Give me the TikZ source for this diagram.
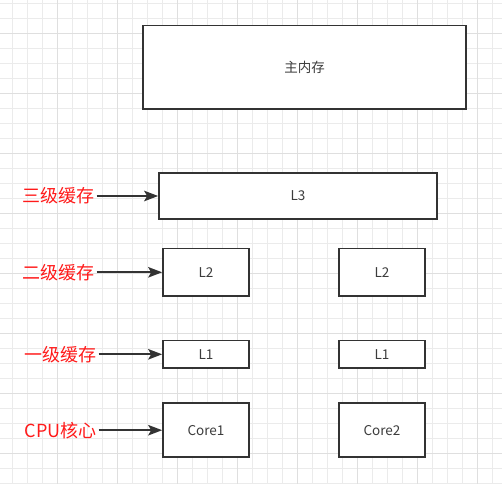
\documentclass[tikz,border=0pt]{standalone}
\usepackage{fontspec}
\setmainfont{Noto Sans CJK SC}
\usepackage{tikz}
\usetikzlibrary{arrows.meta,positioning}

\definecolor{gridminor}{HTML}{EBEBEB}
\definecolor{gridmajor}{HTML}{DFDFDF}
\definecolor{boxline}{HTML}{333333}
\definecolor{boxtext}{HTML}{3C3C3C}
\definecolor{tagred}{HTML}{FF1A1A}

\begin{document}
\begin{tikzpicture}[x=1pt,y=-1pt, box/.style={draw=boxline,line width=1.7pt,fill=white,minimum width=86pt,inner sep=0pt,text=boxtext,font=\fontsize{13.5}{15}\selectfont},tag/.style={text=tagred,anchor=east,inner sep=0pt,font=\fontsize{18}{20}\selectfont},pointer/.style={-{Stealth[length=14pt,width=10.5pt,inset=3pt]},line width=1.8pt,draw=boxline,shorten <=1.5pt}]
                      \useasboundingbox (0,0) rectangle (502,484);
                      \fill[white] (0,0) rectangle (502,484);
                      % grid paper
                      \foreach \x in {12.3,27.3,...,500} \draw[gridminor,line width=1pt] (\x,0) -- (\x,484);
                      \foreach \y in {3.3,18.3,...,484} \draw[gridminor,line width=1pt] (0,\y) -- (502,\y);
                      \foreach \x in {57.3,117.3,...,500} \draw[gridmajor,line width=1pt] (\x,0) -- (\x,484);
                      \foreach \y in {33.3,93.3,...,484} \draw[gridmajor,line width=1pt] (0,\y) -- (502,\y);

                      \node[box,minimum width=323pt,minimum height=83.5pt] (mem) at (304.5,67.3) {主内存};
                      \node[box,minimum width=278pt,minimum height=46pt] (l3) at (298,196) {L3};

                      \node[box,minimum height=47.5pt] (l2a) at (206,272.3) {L2};
                      \node[box,minimum height=47.5pt] (l2b) at (382,272.3) {L2};
                      \node[box,minimum height=27.5pt] (l1a) at (206,354.3) {L1};
                      \node[box,minimum height=27.5pt] (l1b) at (382,354.3) {L1};
                      \node[box,minimum height=54pt] (core1) at (206,430.2) {Core1};
                      \node[box,minimum height=54pt] (core2) at (382,430.2) {Core2};

                      \node[tag] (t3) at (95,196) {三级缓存};
                      \node[tag] (t2) at (95,272.3) {二级缓存};
                      \node[tag] (t1) at (97,354.3) {一级缓存};
                      \node[tag] (tc) at (97,430.2) {CPU核心};
                      \draw[pointer] (t3) -- (l3);
                      \draw[pointer] (t2) -- (l2a);
                      \draw[pointer] (t1) -- (l1a);
                      \draw[pointer] (tc) -- (core1);
                    \end{tikzpicture}
\end{document}
